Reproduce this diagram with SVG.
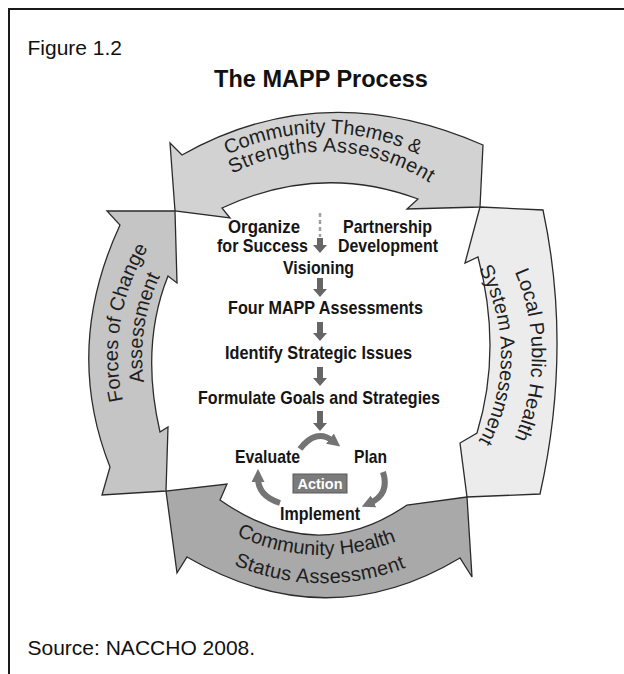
<svg xmlns="http://www.w3.org/2000/svg" width="624" height="674" viewBox="0 0 624 674">
<defs>
<style>
.frame{stroke:#1a1a1a;stroke-width:2;fill:none}
.arr{stroke:#2b2b2b;stroke-width:1.3;stroke-linejoin:miter}
.lbl{font-family:"Liberation Sans",Arial,sans-serif;font-size:20px;fill:#1e1e1e}
.step{font-family:"Liberation Sans",Arial,sans-serif;font-weight:bold;font-size:19px;fill:#151515;text-anchor:middle}
.cap{font-family:"Liberation Sans",Arial,sans-serif;font-size:21px;fill:#111}
.dn{fill:#666666}
.cyc{fill:none;stroke:#747474;stroke-width:6;marker-end:url(#ah)}
</style>
<marker id="ah" markerUnits="userSpaceOnUse" viewBox="0 0 10 10" refX="3" refY="5" markerWidth="13" markerHeight="13" orient="auto"><path d="M0,0 L10,5 L0,10 Z" fill="#747474"/></marker>
<path id="pt1" d="M104.4,316.5 A222,222 0 0 1 541.6,316.5"/>
<path id="pt2" d="M129.8,311.8 A197,197 0 0 1 519.4,329.5"/>
<path id="pl1" d="M255.2,548.5 A205,205 0 0 1 320.5,150"/>
<path id="pl2" d="M265.3,526.5 A181,181 0 0 1 318.6,174.05"/>
<path id="pr1" d="M359.3,149.2 A209,209 0 0 1 359.3,560.8"/>
<path id="pr2" d="M353.9,179.7 A178,178 0 0 1 353.9,530.3"/>
<path id="pb1" d="M124.9,382.8 A200,200 0 0 0 518.6,396.6"/>
<path id="pb2" d="M97.9,391.5 A228,228 0 0 0 547,397.7"/>
</defs>

<g id="frame">
<path class="frame" d="M9,674 V9 H624"/>
</g>

<g id="captions">
<text class="cap" x="27.5" y="55">Figure 1.2</text>
<text x="321" y="87" font-family="Liberation Sans, Arial, sans-serif" font-weight="bold" font-size="23.5" text-anchor="middle" fill="#111">The MAPP Process</text>
<text class="cap" x="27.5" y="655">Source: NACCHO 2008.</text>
</g>

<g id="arrow-top">
<path class="arr" fill="#d2d2d2" d="M175,211 L170,143 L182,155 Q323.5,75 483,145 L480,207 L407,209 L418,199 Q320,162.5 222,208 L230,218 Z"/>
<text class="lbl"><textPath href="#pt1" startOffset="50%" text-anchor="middle">Community Themes &amp;</textPath></text>
<text class="lbl" letter-spacing="0.4"><textPath href="#pt2" startOffset="50%" text-anchor="middle">Strengths Assessment</textPath></text>
</g>

<g id="arrow-right">
<path class="arr" fill="#ececec" d="M480,207 L543,210 Q572.5,348.5 540,494 L467,497 L460,443 L477,433 Q502.5,349 478,257 L465,263 Z"/>
<text class="lbl"><textPath href="#pr1" startOffset="50%" text-anchor="middle">Local Public Health</textPath></text>
<text class="lbl"><textPath href="#pr2" startOffset="50%" text-anchor="middle">System Assessment</textPath></text>
</g>

<g id="arrow-bottom">
<path class="arr" fill="#a9a9a9" d="M467,497 L407,505 Q316.5,567.5 220,500 L227,484 L166,491 L177,573 L187,557 Q326.5,638 460,558 L472,577 Z"/>
<text class="lbl"><textPath href="#pb1" startOffset="50%" text-anchor="middle">Community Health</textPath></text>
<text class="lbl" letter-spacing="0.4"><textPath href="#pb2" startOffset="50%" text-anchor="middle">Status Assessment</textPath></text>
</g>

<g id="arrow-left">
<path class="arr" fill="#c5c5c5" d="M166,491 L102,495 L110,467 Q63,348 120,225 L107,211 L175,211 L177,283 L168,276 Q140,346 160,432 L168,427 Z"/>
<text class="lbl"><textPath href="#pl1" startOffset="50%" text-anchor="middle">Forces of Change</textPath></text>
<text class="lbl"><textPath href="#pl2" startOffset="50%" text-anchor="middle">Assessment</textPath></text>
</g>

<g id="step-organize"><text class="step" x="264" y="233" textLength="72" lengthAdjust="spacingAndGlyphs">Organize</text><text class="step" x="262.5" y="252" textLength="91" lengthAdjust="spacingAndGlyphs">for Success</text></g>
<g id="step-partnership"><text class="step" x="387.5" y="233" textLength="89" lengthAdjust="spacingAndGlyphs">Partnership</text><text class="step" x="388" y="252" textLength="100" lengthAdjust="spacingAndGlyphs">Development</text></g>
<g id="step-visioning"><text class="step" x="318.5" y="274" textLength="71" lengthAdjust="spacingAndGlyphs">Visioning</text></g>
<g id="step-assess"><text class="step" x="325.5" y="314" textLength="195" lengthAdjust="spacingAndGlyphs">Four MAPP Assessments</text></g>
<g id="step-issues"><text class="step" x="318.5" y="359" textLength="187" lengthAdjust="spacingAndGlyphs">Identify Strategic Issues</text></g>
<g id="step-goals"><text class="step" x="319" y="404" textLength="242" lengthAdjust="spacingAndGlyphs">Formulate Goals and Strategies</text></g>
<g id="step-evaluate"><text class="step" x="267.5" y="463" textLength="65" lengthAdjust="spacingAndGlyphs">Evaluate</text></g>
<g id="step-plan"><text class="step" x="370.5" y="463" textLength="33" lengthAdjust="spacingAndGlyphs">Plan</text></g>
<g id="step-implement"><text class="step" x="320" y="520" textLength="80" lengthAdjust="spacingAndGlyphs">Implement</text></g>
<g id="step-action">
<rect x="293" y="474" width="54" height="19" fill="#7b7b7b" stroke="#5a5a5a" stroke-width="1"/>
<text x="320" y="489" font-family="Liberation Sans, Arial, sans-serif" font-weight="bold" font-size="14.5" fill="#ffffff" text-anchor="middle">Action</text>
</g>

<g id="connectors">
<line x1="320" y1="213" x2="320" y2="237" stroke="#a0a0a0" stroke-width="2.5" stroke-dasharray="4 3"/>
<path class="dn" transform="translate(320,238)" d="M-3,0H3V7H7L0,15L-7,7H-3Z"/>
<path class="dn" transform="translate(320,278)" d="M-3,0H3V11H7L0,19L-7,11H-3Z"/>
<path class="dn" transform="translate(320,322)" d="M-3,0H3V11H7L0,19L-7,11H-3Z"/>
<path class="dn" transform="translate(320,367)" d="M-3,0H3V11H7L0,19L-7,11H-3Z"/>
<path class="dn" transform="translate(320,411)" d="M-3,0H3V12H7L0,20L-7,12H-3Z"/>
<path class="cyc" d="M300,449 Q316,428 333,441"/>
<path class="cyc" d="M383,472 Q390,494 370,503"/>
<path class="cyc" d="M280,503 Q258,496 258,478"/>
</g>
</svg>
